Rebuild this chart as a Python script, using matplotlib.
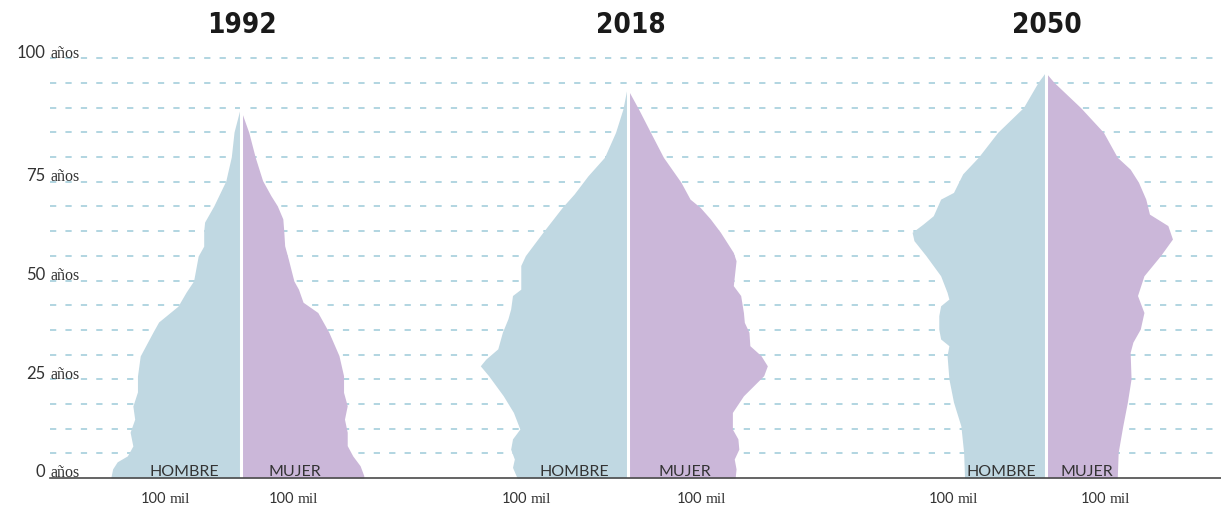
import matplotlib
matplotlib.use("Agg")
import matplotlib.pyplot as plt

plt.rcParams["lines.scale_dashes"] = False

# Population by age (thousands)
years = ["1992", "2018", "2050"]

ages_h_1992 = [0, 2.3, 4.1, 5.6, 8.1, 11.6, 14.9, 18.2, 21.8, 25.8, 30.9, 37.0, 39.5, 43.5,
               47.1, 49.9, 56.2, 58.7, 62.5, 64.8, 68.9, 75.2, 81.3, 87.6, 93.9]
hombres_1992 = [141, 139, 134, 123, 117, 120, 115, 117, 112, 112, 109, 95, 89, 68,
                59, 51, 46, 40, 40, 39, 29, 16, 10, 7, 0]
ages_m_1992 = [0, 0.6, 3.1, 5.6, 8.2, 11.6, 14.9, 18.3, 21.7, 25.9, 31.0, 36.9, 41.9, 44.5,
               47.8, 49.9, 55.4, 58.8, 62.6, 65.6, 68.9, 71.5, 75.3, 81.2, 87.5, 93.4]
mujeres_1992 = [134, 134, 130, 122, 116, 116, 113, 116, 112, 112, 107, 96, 84, 68,
                63, 58, 52, 48, 47, 46, 40, 33, 24, 16, 9, 0]

ages_h_2018 = [0, 2.7, 4.8, 7.3, 9.9, 12.4, 16.6, 20.8, 25.9, 28.4, 30.1, 32.7, 36.9, 40.3,
               42.8, 46.2, 47.8, 53.8, 56.3, 62.2, 68.5, 71.9, 76.5, 81.2, 87.5, 93.4, 99.3]
hombres_2018 = [120, 125, 123, 127, 125, 117, 124, 135, 151, 160, 154, 141, 136, 130,
                127, 125, 116, 116, 111, 92, 71, 58, 43, 25, 13, 5, 0]
ages_m_2018 = [0, 2.3, 4.8, 7.3, 9.9, 12.4, 16.6, 20.8, 25.9, 28.4, 31.0, 33.5, 36.9, 39.4,
               41.9, 46.2, 48.7, 55.0, 57.1, 62.2, 65.6, 68.5, 70.6, 74.9, 81.2, 87.5, 93.4, 98.5]
mujeres_2018 = [117, 118, 116, 121, 120, 114, 114, 126, 148, 152, 145, 133, 132, 127,
                126, 123, 115, 118, 115, 101, 90, 79, 68, 58, 39, 25, 12, 0]

ages_h_2050 = [0, 6.5, 13.2, 19.2, 25.1, 31.0, 33.5, 35.2, 37.7, 41.1, 43.6, 45.3, 47.0, 51.2,
               56.3, 60.1, 62.2, 64.3, 66.4, 70.6, 72.3, 77.0, 81.2, 87.5, 93.8, 100.2, 102.7]
hombres_2050 = [88, 89, 92, 100, 105, 107, 105, 114, 116, 116, 114, 105, 107, 114,
                130, 143, 145, 133, 122, 114, 100, 90, 73, 52, 24, 8, 0]
ages_m_2050 = [0, 6.5, 13.2, 19.2, 25.1, 31.8, 34.4, 37.7, 41.9, 46.2, 51.2, 56.3, 60.5, 63.9,
               66.8, 70.6, 74.9, 78.2, 81.2, 87.5, 93.8, 100.2, 102.7]
mujeres_2050 = [78, 79, 84, 89, 93, 92, 95, 103, 107, 100, 107, 125, 138, 133,
                113, 109, 101, 92, 78, 63, 38, 9, 0]

pyramids = [
    (ages_h_1992, hombres_1992, ages_m_1992, mujeres_1992),
    (ages_h_2018, hombres_2018, ages_m_2018, mujeres_2018),
    (ages_h_2050, hombres_2050, ages_m_2050, mujeres_2050),
]

tick_ages = [0, 25, 50, 75, 106.25]
tick_labels = ["0", "25", "50", "75", "100"]

# layout (pixels of the 1221x510 picture)
PX_K = 0.92      # pixels per thousand people
PX_YEAR = 3.95   # pixels per year of age
LEFT, BASE = 50, 479


def xpx(px):
    return (px - LEFT) / PX_K


def ypx(py):
    return (BASE - py) / PX_YEAR


centers_px = [240.5, 627.5, 1045.5]
titles_px = [241.5, 630.5, 1046.5]
hombre_end_px = [219, 609, 1036]
mujer_start_px = [269, 659, 1060]
mil_px = [(141, 269), (502, 677), (929, 1081)]

blue = "#c0d8e2"
purple = "#cbb7d9"
grid_blue = "#9ccad9"
text_col = "#333333"
sans = ["Lato", "DejaVu Sans"]
serif = ["Liberation Serif", "DejaVu Serif"]

fig = plt.figure(figsize=(12.21, 5.10), dpi=100)
ax = fig.add_axes([LEFT / 1221, (510 - BASE) / 510, (1221 - LEFT) / 1221, (BASE - 40) / 510])
ax.set_xlim(0, (1221 - LEFT) / PX_K)
ax.set_ylim(0, (BASE - 40) / PX_YEAR)

# dashed guide lines every 6.25 years
for k in range(1, 18):
    ax.axhline(k * 6.25, color=grid_blue, lw=1.1, linestyle=(0, (4.5, 6.6)), zorder=1)

for i, (ah, h, am, m) in enumerate(pyramids):
    c = xpx(centers_px[i])
    ax.fill_betweenx(ah, [c - v for v in h], c, color=blue, lw=0, zorder=2)
    ax.fill_betweenx(am, c, [c + v for v in m], color=purple, lw=0, zorder=2)
    ax.plot([c, c], [0, max(ah[-1], am[-1]) + 1], color="white", lw=2.2, zorder=3)

    ax.text(xpx(titles_px[i]), ypx(25), years[i], ha="center", va="center",
            fontsize=20, fontweight="bold", fontstretch="condensed", color="#1a1a1a",
            family=["DejaVu Sans"], clip_on=False)
    ax.text(xpx(hombre_end_px[i]), ypx(476), "HOMBRE", ha="right", va="baseline",
            fontsize=11.5, color=text_col, family=sans, zorder=4)
    ax.text(xpx(mujer_start_px[i]), ypx(476), "MUJER", ha="left", va="baseline",
            fontsize=11.5, color=text_col, family=sans, zorder=4)
    for sx in mil_px[i]:
        ax.text(xpx(sx), ypx(503), "100", ha="left", va="baseline",
                fontsize=10.5, color=text_col, family=sans, clip_on=False)
        ax.text(xpx(sx + 29), ypx(503), "mil", ha="left", va="baseline",
                fontsize=11, color=text_col, family=serif, clip_on=False)

# age labels
for a, lab in zip(tick_ages, tick_labels):
    ax.text(xpx(45), a + 0.4, lab, ha="right", va="baseline",
            fontsize=12, color=text_col, family=sans, clip_on=False)
    ax.text(xpx(50.5), a + 0.4, "años", ha="left", va="baseline",
            fontsize=11.5, color=text_col, family=serif, clip_on=False)

for s in ["top", "left", "right"]:
    ax.spines[s].set_visible(False)
ax.spines["bottom"].set_color("#4a4a4a")
ax.spines["bottom"].set_linewidth(1.2)
ax.spines["bottom"].set_zorder(5)
ax.set_xticks([])
ax.set_yticks([])

fig.savefig("out.png", dpi=100)
